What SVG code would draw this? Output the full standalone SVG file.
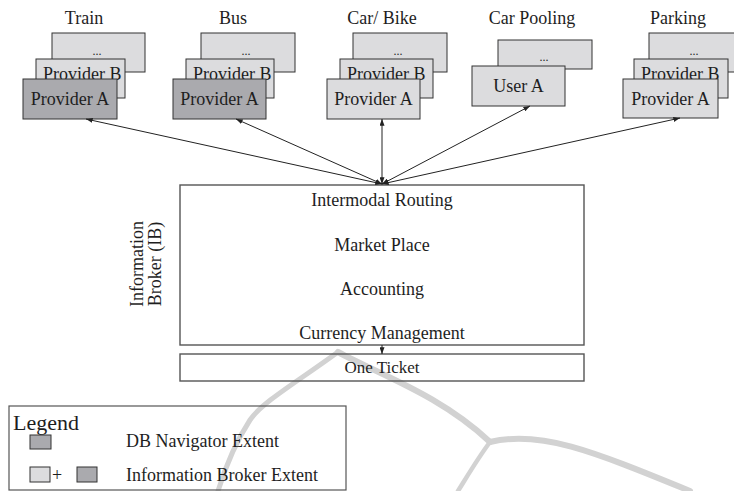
<svg xmlns="http://www.w3.org/2000/svg" width="734" height="491" viewBox="0 0 734 491">
  <style>
    text { font-family: "Liberation Serif", "Times New Roman", serif; fill: #1e1e1e; }
    .t18 { font-size: 18px; }
    .dots { font-size: 12px; text-anchor: middle; }
    .lbl { font-size: 18px; text-anchor: middle; }
    .light { fill: #dcdcde; stroke: #333; stroke-width: 1; }
    .dark { fill: #aaaaae; stroke: #333; stroke-width: 1; }
    .frame { fill: #fff; stroke: #555; stroke-width: 1.4; }
    .conn { stroke: #222; stroke-width: 1; fill: none; }
    .mark { fill: none; stroke: #d2d2d2; stroke-linecap: round; stroke-linejoin: round; }
  </style>
  <defs>
    <marker id="ah" viewBox="0 0 8 6" refX="8" refY="3" markerWidth="7" markerHeight="5" markerUnits="userSpaceOnUse" orient="auto-start-reverse">
      <path d="M0,0 L8,3 L0,6 Z" fill="#222"/>
    </marker>
  </defs>

  <rect width="734" height="491" fill="#fff"/>

  <!-- Train -->
  <g id="train">
    <text class="lbl" x="84" y="24">Train</text>
    <rect class="light" x="52" y="33" width="93" height="39"/>
    <text class="dots" x="97" y="55">...</text>
    <rect class="light" x="36" y="59" width="89" height="39"/>
    <text class="t18" x="43" y="80">Provider B</text>
    <rect class="dark" x="23" y="79" width="94" height="40"/>
    <text class="lbl" x="70" y="105">Provider A</text>
  </g>

  <!-- Bus -->
  <g id="bus">
    <text class="lbl" x="233" y="24">Bus</text>
    <rect class="light" x="201" y="33" width="94" height="39"/>
    <text class="dots" x="246" y="55">...</text>
    <rect class="light" x="186" y="59" width="88" height="39"/>
    <text class="t18" x="193" y="80">Provider B</text>
    <rect class="dark" x="173" y="79" width="93" height="40"/>
    <text class="lbl" x="219.5" y="105">Provider A</text>
  </g>

  <!-- Car / Bike -->
  <g id="car-bike">
    <text class="lbl" x="382" y="24">Car/ Bike</text>
    <rect class="light" x="353" y="33" width="94" height="39"/>
    <text class="dots" x="398" y="55">...</text>
    <rect class="light" x="340" y="59" width="93" height="39"/>
    <text class="t18" x="347" y="80">Provider B</text>
    <rect class="light" x="327" y="79" width="93" height="40"/>
    <text class="lbl" x="373.5" y="105">Provider A</text>
  </g>

  <!-- Car Pooling -->
  <g id="car-pooling">
    <text class="lbl" x="532" y="24">Car Pooling</text>
    <rect class="light" x="498" y="40" width="94" height="29"/>
    <text class="dots" x="544" y="61">...</text>
    <rect class="light" x="472" y="66" width="93" height="40"/>
    <text class="lbl" x="518.5" y="92">User A</text>
  </g>

  <!-- Parking -->
  <g id="parking">
    <text class="lbl" x="678" y="24">Parking</text>
    <rect class="light" x="649" y="33" width="94" height="39"/>
    <text class="dots" x="694" y="55">...</text>
    <rect class="light" x="634" y="59" width="94" height="39"/>
    <text class="t18" x="641" y="80">Provider B</text>
    <rect class="light" x="623" y="79" width="95" height="39"/>
    <text class="lbl" x="670.5" y="105">Provider A</text>
  </g>

  <!-- Information Broker -->
  <g id="information-broker">
    <rect class="frame" x="180" y="185" width="404" height="160"/>
    <text class="lbl" x="382" y="206">Intermodal Routing</text>
    <text class="lbl" x="382" y="251">Market Place</text>
    <text class="lbl" x="382" y="295">Accounting</text>
    <text class="lbl" x="382" y="339">Currency Management</text>
    <text class="lbl" transform="translate(143,264) rotate(-90)">Information</text>
    <text class="lbl" transform="translate(161,264) rotate(-90)">Broker (IB)</text>
  </g>

  <!-- faint background strokes, lying under the lower boxes' outlines -->
  <g id="watermark" class="mark">
    <path d="M338,352 C300,380 262,402 250,420 C237,440 226,465 218,491" stroke-width="5"/>
    <path d="M338,352 C380,375 440,395 490,442" stroke-width="6"/>
    <path d="M490,442 C540,430 590,450 690,491" stroke-width="6"/>
    <path d="M490,442 C478,458 468,475 458,491" stroke-width="4.5"/>
  </g>

  <!-- One Ticket -->
  <g id="one-ticket">
    <rect x="180" y="354" width="404" height="27" fill="none" stroke="#555" stroke-width="1.4"/>
    <text class="lbl" x="382" y="373" style="font-size:17px">One Ticket</text>
  </g>

  <!-- connectors -->
  <g id="connectors">
    <line class="conn" x1="382" y1="184" x2="86" y2="119" marker-start="url(#ah)" marker-end="url(#ah)"/>
    <line class="conn" x1="382" y1="184" x2="236" y2="119" marker-start="url(#ah)" marker-end="url(#ah)"/>
    <line class="conn" x1="382" y1="184" x2="382" y2="119" marker-start="url(#ah)" marker-end="url(#ah)"/>
    <line class="conn" x1="382" y1="184" x2="530" y2="106" marker-start="url(#ah)" marker-end="url(#ah)"/>
    <line class="conn" x1="382" y1="184" x2="680" y2="118" marker-start="url(#ah)" marker-end="url(#ah)"/>
    <line class="conn" x1="382" y1="345" x2="382" y2="354" marker-end="url(#ah)"/>
  </g>

  <!-- Legend -->
  <g id="legend">
    <rect x="9" y="406" width="337" height="84" fill="none" stroke="#555" stroke-width="1.2"/>
    <text x="13" y="430" style="font-size:22px">Legend</text>
    <rect class="dark" x="30" y="435" width="21" height="14"/>
    <text class="t18" x="126" y="447">DB Navigator Extent</text>
    <rect class="light" x="30" y="467" width="20" height="15"/>
    <text class="t18" x="52" y="481">+</text>
    <rect class="dark" x="77" y="467" width="20" height="15"/>
    <text class="t18" x="126" y="481">Information Broker Extent</text>
  </g>
</svg>
